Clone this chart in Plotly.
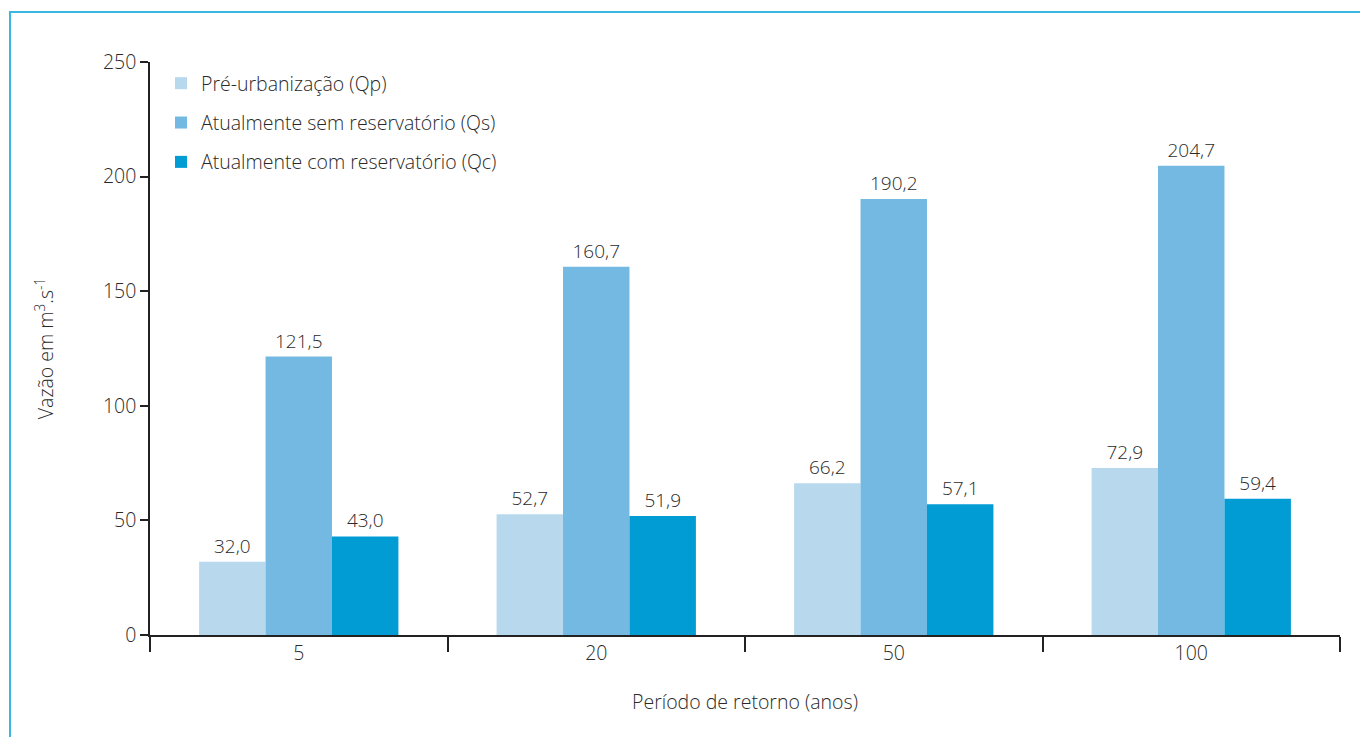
import plotly.graph_objects as go

# Return periods (years) and peak discharge per scenario (m³/s)
periodos = ["5", "20", "50", "100"]
pre_urbanizacao = [32.0, 52.7, 66.2, 72.9]
sem_reservatorio = [121.5, 160.7, 190.2, 204.7]
com_reservatorio = [43.0, 51.9, 57.1, 59.4]

nomes = [
    "Pré-urbanização (Qp)",
    "Atualmente sem reservatório (Qs)",
    "Atualmente com reservatório (Qc)",
]
cores = ["#b8d8ee", "#74b9e1", "#009cd3"]
series = [pre_urbanizacao, sem_reservatorio, com_reservatorio]

FONT = "Open Sans"
WEIGHT = 300
TXT = "#2a2a2a"


def fonte(size):
    return dict(family=FONT, size=size, color=TXT, weight=WEIGHT)


fig = go.Figure()
for i, (nome, cor, vals) in enumerate(zip(nomes, cores, series)):
    fig.add_trace(go.Bar(
        x=periodos, y=vals, name=nome,
        marker=dict(color=cor, line=dict(width=0)),
        texttemplate="%{y:.1f}", textposition="outside",
        textfont=fonte(19),
        cliponaxis=False,
        legendgroup=f"g{i}",
    ))

W, H = 1360, 737
L, R, T, B = 150, 20, 62, 102
pw, ph = W - L - R, H - T - B


def px_x(p):
    return (p - L) / pw


def px_y(p):
    return (H - B - p) / ph


fig.update_layout(
    width=W, height=H,
    margin=dict(l=L, r=R, t=T, b=B),
    paper_bgcolor="white", plot_bgcolor="white",
    separators=",.",
    barmode="group", bargap=0.33, bargroupgap=0,
    font=fonte(19),
    legend=dict(
        x=px_x(161), y=px_y(64), xanchor="left", yanchor="top",
        traceorder="grouped", tracegroupgap=11,
        font=fonte(19.5),
        bgcolor="rgba(0,0,0,0)",
    ),
    xaxis=dict(
        showline=True, linecolor="#222222", linewidth=1.5,
        ticks="outside", tickson="boundaries", ticklen=15,
        tickcolor="#222222", tickwidth=1.5,
        tickfont=fonte(19.5),
        title=dict(text="Período de retorno (anos)", standoff=30,
                   font=fonte(19.5)),
        showgrid=False,
    ),
    yaxis=dict(
        range=[0, 250], tickvals=[0, 50, 100, 150, 200, 250],
        showline=True, linecolor="#222222", linewidth=1.5,
        ticks="outside", ticklen=8, tickcolor="#222222", tickwidth=1.5,
        tickfont=fonte(19.5),
        title=dict(text="Vazão em m<sup>3</sup>.s<sup>-1</sup>", standoff=44,
                   font=fonte(19.5)),
        showgrid=False, zeroline=False,
    ),
    shapes=[dict(
        type="rect", xref="paper", yref="paper",
        x0=px_x(10), x1=px_x(1400), y0=px_y(800), y1=px_y(12),
        line=dict(color="#3ab6e3", width=2), fillcolor="rgba(0,0,0,0)",
        layer="below",
    )],
)

fig.write_html("out.html")
